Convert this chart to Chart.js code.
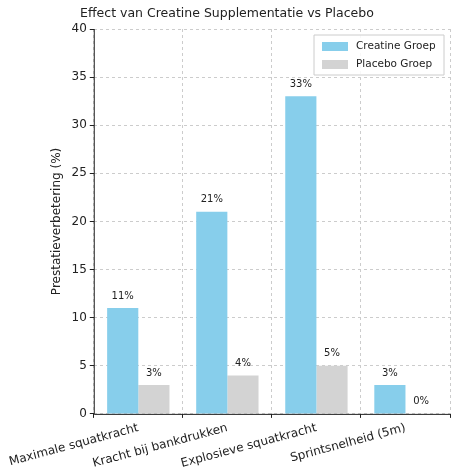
<!DOCTYPE html>
<html><head><script src="https://cdn.jsdelivr.net/npm/chart.js@4"></script>
<style>html,body{margin:0;padding:0;background:#fff}#w{width:474px;height:474px}</style></head>
<body><div id="w"><canvas id="c"></canvas></div>
<script>
const categories=["Maximale squatkracht","Kracht bij bankdrukken","Explosieve squatkracht","Sprintsnelheid (5m)"];
const creatine=[11,21,33,3];
const placebo=[3,4,5,0];
const yTicks=[0,5,10,15,20,25,30,35,40];
const F="'DejaVu Sans', sans-serif";
const labelsPlugin={id:'lbl',afterDatasetsDraw(ch){const ctx=ch.ctx;ctx.save();ctx.font="10px "+F;ctx.fillStyle='#222';ctx.textAlign='center';ctx.textBaseline='bottom';
ch.data.datasets.forEach((ds,i)=>{ch.getDatasetMeta(i).data.forEach((b,j)=>{ctx.fillText(ds.data[j]+'%',b.x,b.y-7);});});ctx.restore();}};
const legendPlugin={id:'leg',afterDraw(ch){const ctx=ch.ctx,a=ch.chartArea;ctx.save();
ctx.strokeStyle='#222';ctx.lineWidth=1;ctx.beginPath();ctx.moveTo(a.left+0.5,a.top);ctx.lineTo(a.left+0.5,a.bottom+0.5);ctx.lineTo(a.right,a.bottom+0.5);ctx.stroke();
const w=130,h=40,x=a.right-w-6,y=a.top+6;
ctx.fillStyle='rgba(255,255,255,0.85)';ctx.strokeStyle='#ccc';ctx.beginPath();ctx.rect(x,y,w,h);ctx.fill();ctx.stroke();
ctx.font="10.5px "+F;ctx.textBaseline='middle';ctx.textAlign='left';
[['#87CEEB','Creatine Groep'],['#D3D3D3','Placebo Groep']].forEach((e,i)=>{const yy=y+11+i*18;ctx.fillStyle=e[0];ctx.fillRect(x+8,yy-4,26,9);ctx.fillStyle='#222';ctx.fillText(e[1],x+42,yy);});ctx.restore();}};
new Chart(document.getElementById('c'),{type:'bar',
data:{labels:categories,datasets:[{label:'Creatine Groep',data:creatine,backgroundColor:'#87CEEB'},{label:'Placebo Groep',data:placebo,backgroundColor:'#D3D3D3'}]},
options:{responsive:true,maintainAspectRatio:false,animation:false,devicePixelRatio:1,
layout:{padding:{right:24,top:4,left:4}},
datasets:{bar:{categoryPercentage:0.7,barPercentage:1.0}},
plugins:{legend:{display:false},tooltip:{enabled:false},
title:{display:true,text:'Effect van Creatine Supplementatie vs Placebo',color:'#222',font:{family:F,size:12.5,weight:'normal'},padding:{top:2,bottom:8}}},
scales:{
x:{grid:{color:'#ccc',tickColor:'#222',tickLength:4},border:{display:false,dash:[3,3]},ticks:{color:'#222',font:{family:F,size:12},minRotation:15,maxRotation:15,autoSkip:false}},
y:{min:0,max:40,afterBuildTicks(s){s.ticks=yTicks.map(v=>({value:v}));},grid:{color:'#ccc',tickColor:'#222',tickLength:4},border:{display:false,dash:[3,3]},ticks:{color:'#222',font:{family:F,size:12}},
title:{display:true,text:'Prestatieverbetering (%)',color:'#222',font:{family:F,size:12}}}
}},
plugins:[labelsPlugin,legendPlugin]});
</script></body></html>
